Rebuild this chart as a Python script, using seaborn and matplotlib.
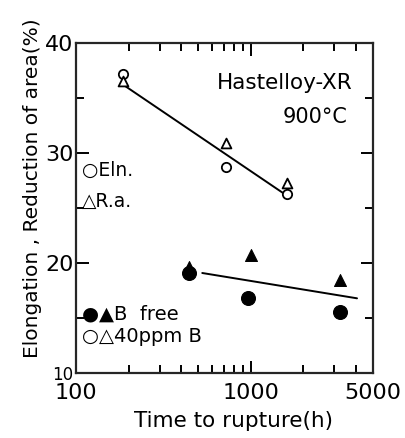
import numpy as np
import pandas as pd
from matplotlib import pyplot as plt
from matplotlib.ticker import FixedLocator, NullFormatter
import seaborn as sns

sns.set_style('ticks')
plt.rcParams['font.family'] = ['DejaVu Sans']
plt.rcParams.update({'text.color': 'black', 'axes.labelcolor': 'black',
                     'xtick.color': 'black', 'ytick.color': 'black'})

# 40 ppm B (open symbols)
ppm_t_eln = [185, 720, 1600]
ppm_eln = [37.2, 28.7, 26.3]
ppm_t_ra = [185, 720, 1600]
ppm_ra = [36.5, 30.9, 27.3]
# B free (filled symbols)
free_t_eln = [445, 960, 3250]
free_eln = [19.1, 16.8, 15.6]
free_t_ra = [445, 1000, 3250]
free_ra = [19.6, 20.7, 18.5]
# fitted lines
fit_ppm_t = [190, 1550]
fit_ppm = [36.1, 26.3]
fit_free_t = [527, 4050]
fit_free = [19.1, 16.8]

fig = plt.figure(figsize=(4.05, 4.38), dpi=100)
ax = fig.add_axes([0.188, 0.148, 0.733, 0.754])
ax.set_xscale('log')

sns.lineplot(x=fit_ppm_t, y=fit_ppm, color='black', lw=1.4, ax=ax)
sns.lineplot(x=fit_free_t, y=fit_free, color='black', lw=1.4, ax=ax)

sns.scatterplot(x=ppm_t_eln, y=ppm_eln, marker='o', s=45, facecolor='white',
                edgecolor='black', linewidth=1.3, ax=ax, zorder=3)
sns.scatterplot(x=ppm_t_ra, y=ppm_ra, marker='^', s=50, facecolor='white',
                edgecolor='black', linewidth=1.3, ax=ax, zorder=3)
sns.scatterplot(x=free_t_eln, y=free_eln, marker='o', s=100, color='black',
                edgecolor='black', ax=ax, zorder=3)
sns.scatterplot(x=free_t_ra, y=free_ra, marker='^', s=75, color='black',
                edgecolor='black', ax=ax, zorder=3)

ax.set_xlim(100, 5000)
ax.set_ylim(10, 40)
ax.xaxis.set_major_locator(FixedLocator([100, 1000, 5000]))
ax.xaxis.set_minor_locator(FixedLocator([200, 300, 400, 500, 600, 700, 800, 900,
                                         2000, 3000, 4000]))
ax.xaxis.set_minor_formatter(NullFormatter())
ax.set_xticklabels(['100', '1000', '5000'])
ax.yaxis.set_major_locator(FixedLocator([10, 20, 30, 40]))
ax.yaxis.set_minor_locator(FixedLocator([15, 25, 35]))
ax.set_yticklabels(['10', '20', '30', '40'])

ax.tick_params(which='both', direction='in', top=True, right=True, width=1.4,
               labelsize=16)
ax.tick_params(axis='x', pad=7)
ax.tick_params(axis='y', pad=2)
ax.tick_params(which='major', length=9)
ax.tick_params(which='minor', length=6)
ax.get_yticklabels()[0].set_fontsize(12)
for s in ax.spines.values():
    s.set_linewidth(1.6)

ax.set_xlabel('Time to rupture(h)', fontsize=15.5)
ax.xaxis.set_label_coords(0.53, -0.115)
ax.set_ylabel('Elongation , Reduction of area(%)', fontsize=14.5)
ax.yaxis.set_label_coords(-0.115, 0.56)

ax.text(0.93, 0.88, 'Hastelloy-XR', transform=ax.transAxes, fontsize=15.5,
        ha='right', va='center')
ax.text(0.915, 0.775, '900°C', transform=ax.transAxes, fontsize=15,
        ha='right', va='center')
ax.text(0.02, 0.615, '○Eln.', transform=ax.transAxes, fontsize=13.5, va='center')
ax.text(0.02, 0.52, '△R.a.', transform=ax.transAxes, fontsize=13.5, va='center')
ax.text(0.02, 0.18, '●▲B  free', transform=ax.transAxes, fontsize=14, va='center')
ax.text(0.02, 0.11, '○△40ppm B', transform=ax.transAxes, fontsize=14,
        va='center')

fig.savefig('out.png', dpi=100)
